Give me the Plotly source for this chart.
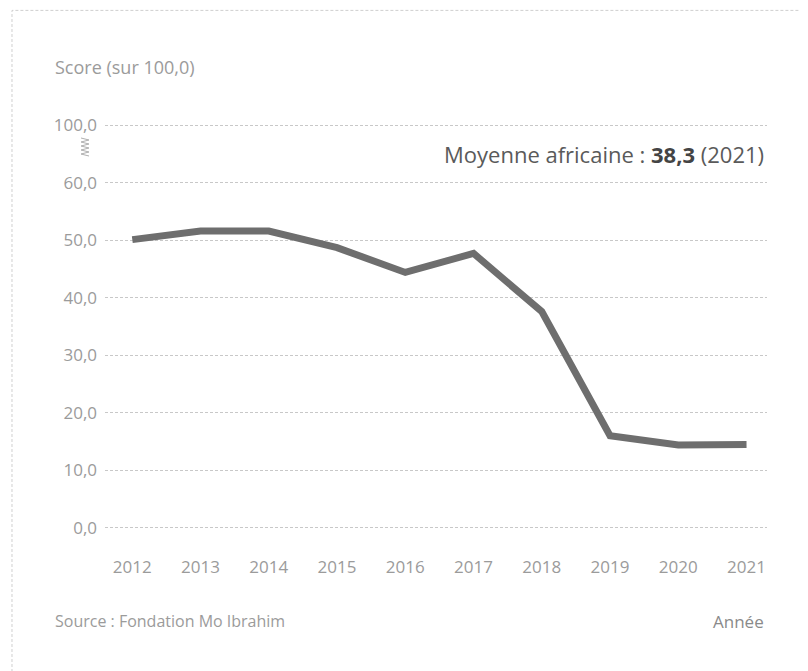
import plotly.graph_objects as go

years = [2012, 2013, 2014, 2015, 2016, 2017, 2018, 2019, 2020, 2021]
scores = [50.1, 51.6, 51.6, 48.7, 44.4, 47.7, 37.6, 16.0, 14.4, 14.5]

# the axis is broken: 100,0 is drawn one step above 60,0
tick_vals = [0, 10, 20, 30, 40, 50, 60, 70]
tick_text = ["0,0", "10,0", "20,0", "30,0", "40,0", "50,0", "60,0", "100,0"]

grey = "#9b9b9b"
font = "'Open Sans', sans-serif"

fig = go.Figure()
fig.add_trace(go.Scatter(x=years, y=scores, mode="lines",
                         line=dict(color="#6e6e6e", width=7), hoverinfo="skip"))

fig.update_layout(
    width=800, height=663,
    margin=dict(l=97, r=41, t=116, b=142),
    paper_bgcolor="white", plot_bgcolor="white",
    showlegend=False,
    font=dict(family=font, color=grey, size=17),
)
fig.update_xaxes(range=[2011.6, 2021.3], tickvals=years, ticks="", showgrid=False,
                 zeroline=False, showline=False, ticklabelstandoff=26,
                 tickfont=dict(size=17, color=grey))
fig.update_yaxes(range=[-0.2, 70.2], tickvals=tick_vals, ticktext=tick_text, ticks="",
                 showgrid=True, gridcolor="#c8c8c8", griddash="3px,2px", gridwidth=1,
                 zeroline=False, showline=False, ticklabelstandoff=7,
                 tickfont=dict(size=17, color=grey))

# dashed frame around the card
fig.add_shape(type="rect", xref="paper", yref="paper",
              x0=-0.1405, x1=1.2, y0=-0.6, y1=1.2805,
              line=dict(color="#cfcfcf", width=1, dash="3px,2px"), layer="below")

# axis break marker
zig = ("M -4 9 L 4 7 L -4 5 L 4 3 L -4 1 L 4 -1 L -4 -3 L 4 -5 L -4 -7 L 4 -9")
fig.add_shape(type="path", xref="paper", yref="y", xsizemode="pixel", ysizemode="pixel",
              xanchor=-0.0302, yanchor=66.2, path=zig,
              line=dict(color="#b0b0b0", width=1))

fig.add_annotation(text="Score (sur 100,0)", xref="paper", yref="paper",
                   x=-0.0785, y=1.1415, xanchor="left", yanchor="middle",
                   showarrow=False, font=dict(size=18, color=grey))
fig.add_annotation(text="Moyenne africaine : <b style='color:#444'>38,3</b> (2021)",
                   xref="paper", yref="paper", x=0.9985, y=0.9255,
                   xanchor="right", yanchor="middle", showarrow=False,
                   font=dict(size=22, color="#5a5a5a"))
fig.add_annotation(text="Source : Fondation Mo Ibrahim", xref="paper", yref="paper",
                   x=-0.0785, y=-0.2283, xanchor="left", yanchor="middle",
                   showarrow=False, font=dict(size=16, color=grey))
fig.add_annotation(text="Année", xref="paper", yref="paper",
                   x=0.9985, y=-0.2283, xanchor="right", yanchor="middle",
                   showarrow=False, font=dict(size=17, color="#8a8a8a"))

fig.write_html("out.html")
